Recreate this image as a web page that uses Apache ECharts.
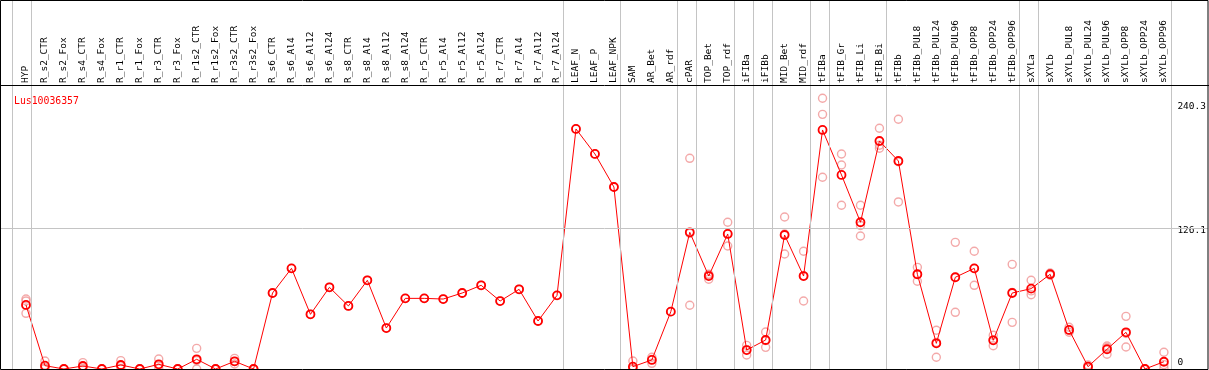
<!DOCTYPE html>
<html>
<head>
<meta charset="utf-8">
<script src="https://cdn.jsdelivr.net/npm/echarts@6/dist/echarts.min.js"></script>
<style>
html,body{margin:0;padding:0;background:#fff;}
#chart{width:1209px;height:370px;}
</style>
</head>
<body>
<div id="chart"></div>
<script>
// ---------------- DATA ----------------
const title = 'Lus10036357';
const categories = ['HYP','R_s2_CTR','R_s2_Fox','R_s4_CTR','R_s4_Fox','R_r1_CTR','R_r1_Fox','R_r3_CTR','R_r3_Fox',
  'R_r1s2_CTR','R_r1s2_Fox','R_r3s2_CTR','R_r3s2_Fox','R_s6_CTR','R_s6_Al4','R_s6_Al12','R_s6_Al24',
  'R_s8_CTR','R_s8_Al4','R_s8_Al12','R_s8_Al24','R_r5_CTR','R_r5_Al4','R_r5_Al12','R_r5_Al24',
  'R_r7_CTR','R_r7_Al4','R_r7_Al12','R_r7_Al24','LEAF_N','LEAF_P','LEAF_NPK','SAM','AR_Bet','AR_rdf',
  'cPAR','TOP_Bet','TOP_rdf','iFIBa','iFIBb','MID_Bet','MID_rdf','tFIBa','tFIB_Gr','tFIB_Li','tFIB_Bi',
  'tFIBb','tFIBb_PUL8','tFIBb_PUL24','tFIBb_PUL96','tFIBb_OPP8','tFIBb_OPP24','tFIBb_OPP96',
  'sXYLa','sXYLb','sXYLb_PUL8','sXYLb_PUL24','sXYLb_PUL96','sXYLb_OPP8','sXYLb_OPP24','sXYLb_OPP96'];
const means = [57.4,3.0,0,2.7,0,3.6,0,4.2,0,8.7,0,6.9,0,68.1,90.2,49.0,73.2,
  56.5,79.5,36.7,63.3,63.3,62.7,68.1,75.0,60.9,71.4,43.0,66.0,
  215.1,192.7,163.1,2.1,8.1,51.4,122.5,83.3,121.0,17.0,26.0,120.1,83.3,
  214.2,173.9,131.5,204.3,186.4,84.9,23.0,82.2,90.2,25.7,68.1,
  72.0,84.9,35.0,2.1,17.7,32.9,0,6.5];
const replicates = [[62.7,61.0,49.9],[7.2,1.5,0.3],[0,0,0],[5.7,2.0,0.4],[0,0,0],[7.5,2.8,0.5],[0,0,0],
  [9.0,3.2,0.4],[0,0,0],[18.5,7.6,0],[0,0,0],[9.5,6.7,4.5],[0,0,0],
  [68.1],[90.2],[49.0],[73.2],[56.5],[79.5],[36.7],[63.3],[63.3],[62.7],[68.1],[75.0],[60.9],[71.4],[43.0],[66.0],
  [215.1],[192.7],[163.1],[7.2,0,0],[10.5,8.5,5.1],[51.4],
  [188.8,121.6,57.1],[84.9,84.5,80.4],[131.5,121.3,110.2],[21.2,17.3,12.5],[33.2,25.4,19.4],
  [136.2,121.0,103.1],[105.5,83.5,60.9],[242.6,228.2,171.8],[192.7,182.8,146.7],[146.7,128.6,119.2],
  [215.7,200.5,197.8],[223.8,185.7,149.7],[91.1,85.0,78.6],[34.7,23.8,10.5],[113.5,82.3,50.8],
  [105.5,90.1,75.0],[30.2,26.0,20.9],[93.8,68.7,41.8],[79.5,70.0,66.6],[86.0,85.0,84.0],
  [37.4,34.8,32.9],[3.6,2.0,0.8],[20.6,19.3,13.2],[47.2,31.8,19.7],[0,0,0],[15.0,3.9,0.6]];
// last category of each group (a separator follows it); a separator also precedes the first
const groupEnds = ['HYP','R_r7_Al24','LEAF_NPK','AR_rdf','cPAR','TOP_rdf','iFIBa','iFIBb','MID_rdf',
  'tFIBa','tFIB_Bi','tFIBb_OPP96','sXYLa','sXYLb_OPP96'];
const yTickLabels = [0, 126.1, 240.3];
const gridLineValue = 126.1;
const yMax = 254.5;

// ---------------- LAYOUT ----------------
const W = 1209, H = 370;
const plotTop = 85, plotBottomPx = 369;
const dataLeft = 16.5, dataRight = 33.5;
const step = (W - dataLeft - dataRight) / categories.length;
const pxPerUnit = (plotBottomPx - plotTop) / yMax;
const ovLeft = 1, ovRight = 1;
// overlay value axis that matches the category centres
const ovMin = ((ovLeft) - (dataLeft + step/2)) / step;
const ovMax = ((W - ovRight) - (dataLeft + step/2)) / step;
const ovYMax = (plotBottomPx - 0) / pxPerUnit;
const sepOffset = 0.25;

const sepValues = [-1 + sepOffset].concat(groupEnds.map(n => categories.indexOf(n) + sepOffset));
const repData = [];
replicates.forEach((arr, i) => arr.forEach(v => repData.push([i, v])));

const mono = 'DejaVu Sans Mono';
const gray = '#c4c4c4';

const chart = echarts.init(document.getElementById('chart'), null, {renderer: 'canvas'});
chart.setOption({
  animation: false,
  title: {
    text: title, left: 9, top: 91,
    textStyle: {color: '#ff0000', fontFamily: mono, fontSize: 9.8, fontWeight: 'normal'}
  },
  grid: [
    {left: ovLeft, right: ovRight, top: 0, bottom: H - plotBottomPx},
    {left: dataLeft, right: dataRight, top: plotTop, bottom: H - plotBottomPx}
  ],
  xAxis: [
    {gridIndex: 0, type: 'value', min: ovMin, max: ovMax, show: false},
    {gridIndex: 1, type: 'category', data: categories, position: 'top', boundaryGap: true,
     axisLine: {show: false}, axisTick: {show: false}, splitLine: {show: false},
     axisLabel: {rotate: 90, interval: 0, margin: 2, color: '#000', fontFamily: mono, fontSize: 9.5}}
  ],
  yAxis: [
    {gridIndex: 0, type: 'value', min: 0, max: ovYMax, show: false},
    {gridIndex: 1, type: 'value', min: 0, max: yMax, position: 'right',
     axisLine: {show: false}, axisTick: {show: false}, splitLine: {show: false},
     axisLabel: {
       customValues: yTickLabels, margin: 4, color: '#000', fontFamily: mono, fontSize: 9.5,
       formatter: function (v) {
         const k = (v === yTickLabels[0]) ? 'b' : (v === yTickLabels[yTickLabels.length-1] ? 't' : 'm');
         return '{' + k + '|' + v + '}';
       },
       rich: {
         t: {padding: [11,0,0,0], fontFamily: mono, fontSize: 9.5, color: '#000'},
         m: {padding: [5,0,0,0], fontFamily: mono, fontSize: 9.5, color: '#000'},
         b: {padding: [0,0,13,0], fontFamily: mono, fontSize: 9.5, color: '#000'}
       }
     }}
  ],
  graphic: [
    {type: 'rect', z: 100, silent: true,
     shape: {x: 0.5, y: 0.5, width: W - 1.5, height: plotBottomPx},
     style: {fill: 'none', stroke: '#000', lineWidth: 1}},
    {type: 'line', z: 100, silent: true,
     shape: {x1: 0, y1: plotTop + 0.5, x2: W, y2: plotTop + 0.5},
     style: {stroke: '#000', lineWidth: 1}}
  ],
  series: [
    {type: 'line', xAxisIndex: 0, yAxisIndex: 0, data: [], symbol: 'none', silent: true, z: 1,
     markLine: {
       silent: true, symbol: 'none', label: {show: false}, animation: false,
       lineStyle: {color: gray, width: 1, type: 'solid'},
       data: sepValues.map(v => ({xAxis: v})).concat([{yAxis: gridLineValue}])
     }},
    {type: 'scatter', xAxisIndex: 1, yAxisIndex: 1, data: repData, symbol: 'circle', symbolSize: 8, z: 2,
     itemStyle: {color: 'rgba(0,0,0,0)', borderColor: '#f09494', borderWidth: 1.4}},
    {type: 'line', xAxisIndex: 1, yAxisIndex: 1, data: means, symbol: 'circle', symbolSize: 8, z: 3,
     lineStyle: {color: '#ff0000', width: 1},
     itemStyle: {color: 'rgba(0,0,0,0)', borderColor: '#ff0000', borderWidth: 1.8}}
  ]
});
</script>
</body>
</html>
